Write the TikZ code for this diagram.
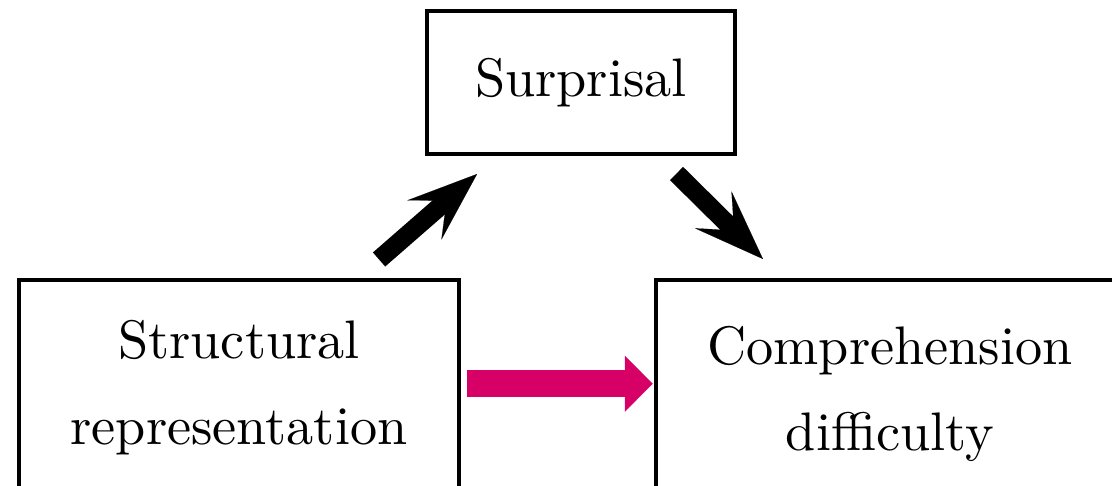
\documentclass[tikz,border=0pt]{standalone}
\usetikzlibrary{arrows.meta}
\definecolor{magentaarrow}{RGB}{215,0,102}
\font\lmten="[lmroman10-regular]" at 40.7pt
\begin{document}
\begin{tikzpicture}[x=0.75pt,y=-0.75pt,
  box/.style={draw, line width=3pt, inner sep=0pt, outer sep=0pt, align=center,
    font=\fontsize{40.7}{64.5}\selectfont\lmten},
  blackarrow/.style={line width=14pt,
    -{Stealth[length=52.5pt,width=39pt,inset=22pt,line width=0.1pt]}},
  pinkarrow/.style={draw=magentaarrow, line width=20.5pt,
    -{Triangle[length=20.8pt,width=41.8pt,line width=0.1pt]}}]
\useasboundingbox (0,0) rectangle (1112,485);
\clip (0,0) rectangle (1112,485);
\node[box, minimum width=231.4pt, minimum height=107.25pt] (surp) at (581,82.5) {Surprisal};
\node[box, minimum width=330.4pt, minimum height=162pt] (struct) at (239,388) {Structural\\representation};
\node[box, minimum width=351pt, minimum height=171pt] (comp) at (890,394) {Comprehension\\difficulty};
\draw[blackarrow, shorten <=23.4pt, shorten >=22.8pt]
  ([xshift=87.4pt]struct.north) -- ([xshift=-60.75pt]surp.south);
\draw[blackarrow, shorten <=20.8pt, shorten >=22.4pt]
  ([xshift=56.85pt]surp.south) -- ([xshift=-79.35pt]comp.north);
\draw[pinkarrow, shorten <=5.6pt, shorten >=2.5pt]
  ([yshift=3.2pt]struct.east) -- ([yshift=3.2pt]struct.east -| comp.west);
\end{tikzpicture}
\end{document}
